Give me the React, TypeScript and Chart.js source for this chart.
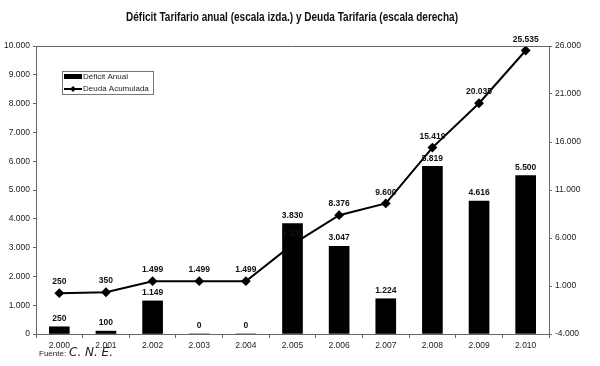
import { useEffect, useRef } from "react";
import { Chart, registerables } from "chart.js";

Chart.register(...registerables);

const titleText = "Déficit Tarifario anual (escala izda.) y Deuda Tarifaria (escala derecha)";
const years = ["2.000", "2.001", "2.002", "2.003", "2.004", "2.005", "2.006", "2.007", "2.008", "2.009", "2.010"];
const deficitAnual = [250, 100, 1149, 0, 0, 3830, 3047, 1224, 5819, 4616, 5500];
const deudaAcumulada = [250, 350, 1499, 1499, 1499, 5329, 8376, 9600, 15419, 20035, 25535];
const legendLabels = ["Déficit Anual", "Deuda Acumulada"];
const sourceLabel = "Fuente:";
const sourceName = "C. N. E.";

const FONT = "'Liberation Sans', Arial, sans-serif";

function fmt(v: number): string {
  const s = Math.abs(Math.round(v)).toString().replace(/\B(?=(\d{3})+(?!\d))/g, ".");
  return (v < 0 ? "-" : "") + s;
}

const decorPlugin = {
  id: "decor",
  afterDatasetsDraw(chart: any) {
    const ctx = chart.ctx as CanvasRenderingContext2D;
    const area = chart.chartArea;
    ctx.save();
    // top border
    ctx.strokeStyle = "#666";
    ctx.lineWidth = 1;
    ctx.beginPath();
    ctx.moveTo(area.left, Math.round(area.top) + 0.5);
    ctx.lineTo(area.right, Math.round(area.top) + 0.5);
    ctx.stroke();

    // data labels
    ctx.fillStyle = "#111";
    ctx.font = `bold 8.5px ${FONT}`;
    ctx.textAlign = "center";
    ctx.textBaseline = "bottom";
    const barMeta = chart.getDatasetMeta(0);
    barMeta.data.forEach((el: any, i: number) => {
      ctx.fillText(fmt(deficitAnual[i]), el.x, el.y - 4);
    });
    const lineMeta = chart.getDatasetMeta(1);
    lineMeta.data.forEach((el: any, i: number) => {
      ctx.fillText(fmt(deudaAcumulada[i]), el.x, el.y - 7);
    });

    // title
    ctx.font = `bold 12px ${FONT}`;
    ctx.textBaseline = "middle";
    const w = ctx.measureText(titleText).width;
    const sx = Math.min(1, 332 / w);
    ctx.save();
    ctx.translate(292, 18);
    ctx.scale(sx, 1);
    ctx.fillText(titleText, 0, 0);
    ctx.restore();

    // legend
    ctx.strokeStyle = "#777";
    ctx.lineWidth = 1;
    ctx.strokeRect(62.5, 71.5, 91, 23);
    ctx.fillStyle = "#000";
    ctx.fillRect(64, 74, 18, 5);
    ctx.beginPath();
    ctx.lineWidth = 2;
    ctx.strokeStyle = "#000";
    ctx.moveTo(64, 89);
    ctx.lineTo(82, 89);
    ctx.stroke();
    ctx.beginPath();
    ctx.moveTo(73, 86);
    ctx.lineTo(76, 89);
    ctx.lineTo(73, 92);
    ctx.lineTo(70, 89);
    ctx.closePath();
    ctx.fill();
    ctx.fillStyle = "#222";
    ctx.font = `8px ${FONT}`;
    ctx.textAlign = "left";
    ctx.textBaseline = "middle";
    ctx.fillText(legendLabels[0], 83, 77);
    ctx.fillText(legendLabels[1], 83, 89);

    // source
    ctx.font = `8px ${FONT}`;
    ctx.fillText(sourceLabel, 39, 354);
    ctx.font = `italic 12px 'DejaVu Sans', sans-serif`;
    ctx.fillText(sourceName, 69, 353);
    ctx.restore();
  },
};

export default function App() {
  const ref = useRef<HTMLCanvasElement | null>(null);
  useEffect(() => {
    if (!ref.current) return;
    const chart = new Chart(ref.current, {
      type: "bar",
      data: {
        labels: years,
        datasets: [
          {
            type: "bar",
            label: legendLabels[0],
            data: deficitAnual,
            backgroundColor: "#000",
            barThickness: 20,
            yAxisID: "y",
            order: 2,
          } as any,
          {
            type: "line",
            label: legendLabels[1],
            data: deudaAcumulada,
            borderColor: "#000",
            backgroundColor: "#000",
            borderWidth: 2,
            pointStyle: "rectRot",
            pointRadius: 3.5,
            pointBackgroundColor: "#000",
            pointBorderColor: "#000",
            yAxisID: "y1",
            order: 1,
          } as any,
        ],
      },
      options: {
        responsive: false,
        animation: false,
        layout: { padding: { top: 46, left: 0, right: 0, bottom: 0 } },
        plugins: {
          legend: { display: false },
          tooltip: { enabled: false },
          title: { display: false },
        },
        scales: {
          x: {
            offset: true,
            grid: { offset: true, drawOnChartArea: false, drawTicks: true, tickLength: 4, color: "#666" },
            border: { color: "#666" },
            ticks: { color: "#222", font: { family: FONT, size: 8.5 }, padding: 3, maxRotation: 0 },
            afterFit: (s: any) => {
              s.height = 32;
            },
          },
          y: {
            position: "left",
            min: 0,
            max: 10000,
            ticks: {
              stepSize: 1000,
              color: "#222",
              font: { family: FONT, size: 8.5 },
              padding: 3,
              callback: (v: any) => fmt(Number(v)),
            },
            grid: { drawOnChartArea: false, drawTicks: true, tickLength: 3, color: "#666" },
            border: { color: "#666" },
            afterFit: (s: any) => {
              s.width = 36;
            },
          },
          y1: {
            position: "right",
            min: -4000,
            max: 26000,
            ticks: {
              stepSize: 5000,
              color: "#222",
              font: { family: FONT, size: 8.5 },
              padding: 3,
              callback: (v: any) => fmt(Number(v)),
            },
            grid: { drawOnChartArea: false, drawTicks: true, tickLength: 3, color: "#666" },
            border: { color: "#666" },
            afterFit: (s: any) => {
              s.width = 51;
            },
          },
        },
      },
      plugins: [decorPlugin],
    });
    return () => chart.destroy();
  }, []);
  return (
    <div style={{ position: "fixed", left: 0, top: 0, width: 600, height: 366, background: "#fff" }}>
      <canvas ref={ref} width={600} height={366} style={{ display: "block" }} />
    </div>
  );
}
